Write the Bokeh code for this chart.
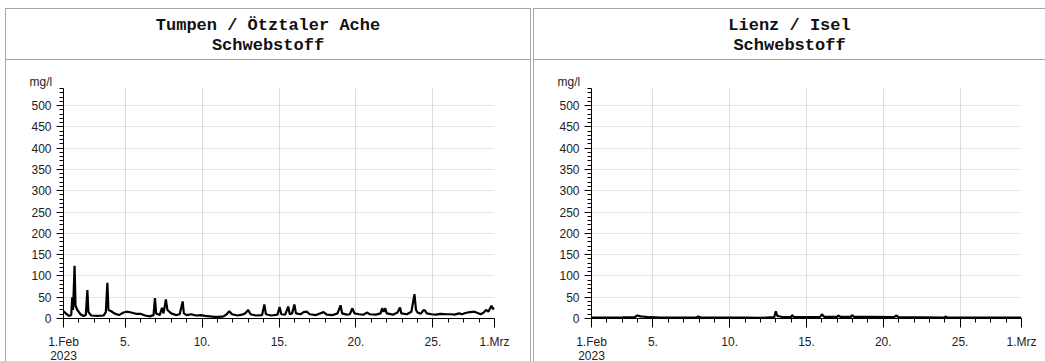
from bokeh.plotting import figure
from bokeh.models import Div, FixedTicker, Title, Range1d, ColumnDataSource
from bokeh.layouts import column, row
from bokeh.embed import file_html
from bokeh.resources import INLINE

# ---- data (days since 1 Feb 2023, mg/l) ----
tumpen_day = [0.0, 0.15, 0.35, 0.5, 0.57, 0.62, 0.72, 0.78, 0.9, 1.1, 1.3, 1.45, 1.55, 1.62, 1.8,
              2.2, 2.6, 2.75, 2.85, 2.92, 3.1, 3.3, 3.6, 3.9, 4.1, 4.4, 4.7, 5.0, 5.3, 5.6, 5.85,
              5.94, 6.02, 6.25, 6.4, 6.5, 6.65, 6.75, 7.0, 7.3, 7.55, 7.74, 7.82, 8.0, 8.3, 8.6,
              8.9, 9.2, 9.5, 9.8, 10.1, 10.4, 10.6, 10.77, 10.95, 11.3, 11.6, 11.8, 12.0, 12.15,
              12.5, 12.9, 13.05, 13.15, 13.5, 13.9, 14.04, 14.15, 14.4, 14.6, 14.7, 14.85, 15.0,
              15.1, 15.4, 15.6, 15.8, 16.0, 16.4, 16.9, 17.1, 17.5, 17.8, 18.0, 18.1, 18.4, 18.6,
              18.77, 18.9, 19.2, 19.5, 19.7, 19.9, 20.3, 20.6, 20.7, 20.8, 20.9, 21.0, 21.4, 21.7,
              21.86, 21.95, 22.3, 22.6, 22.8, 22.9, 23.0, 23.2, 23.4, 23.5, 23.6, 23.9, 24.2, 24.5,
              24.9, 25.2, 25.4, 25.7, 25.9, 26.1, 26.4, 26.7, 26.9, 27.1, 27.3, 27.45, 27.6, 27.8,
              27.9, 28.0]
tumpen_val = [17, 12, 6, 8, 50, 20, 124, 30, 20, 10, 6, 8, 67, 15, 7,
              6, 7, 15, 84, 20, 17, 12, 8, 14, 16, 14, 11, 11, 7, 5, 8,
              48, 12, 8, 25, 12, 45, 20, 12, 8, 10, 40, 12, 8, 10, 7,
              8, 6, 5, 4, 4, 5, 10, 17, 10, 7, 9, 12, 20, 10,
              7, 8, 33, 10, 7, 9, 27, 10, 9, 28, 10, 12, 33,
              12, 10, 15, 16, 10, 8, 15, 9, 8, 12, 31, 12, 9, 10,
              24, 12, 10, 9, 14, 10, 9, 12, 24, 16, 24, 12, 9, 14,
              26, 12, 10, 16, 57, 20, 14, 11, 20, 18, 12, 10, 9, 11,
              10, 10, 9, 12, 10, 13, 15, 16, 13, 10, 14, 20, 16, 30,
              22, 25]

lienz_day = [0, 1, 2, 2.8, 2.98, 3.2, 3.8, 4.5, 6.8, 6.96, 7.1, 10, 11.0, 11.9, 12.0, 12.1,
             12.5, 13.0, 13.05, 13.2, 14.9, 15.0, 15.15, 16.0, 16.06, 16.2, 16.9, 16.95, 17.1,
             18, 19.7, 19.84, 20.0, 23.0, 23.04, 23.2, 28]
lienz_val = [2, 2, 2.5, 3, 7, 5, 3, 2, 2, 5, 2, 2, 1.5, 3, 17, 6,
             3, 3, 8, 3, 4, 10, 4, 4, 7, 4, 4, 8, 4,
             4, 3, 7, 3, 2, 5, 2, 2]

x_ticks = [0, 4, 9, 14, 19, 24, 28]
x_tick_labels = ["1.Feb\n2023", "5.", "10.", "15.", "20.", "25.", "1.Mrz"]
y_ticks = list(range(0, 501, 50))
titles = ["Tumpen / Ötztaler Ache", "Lienz / Isel"]
subtitle = "Schwebstoff"
unit = "mg/l"

BORDER = "1px solid #a8a8a8"


def make_panel(title, days, vals, width, left_pad, right_border=True):
    div_styles = {
        "font-family": "'Liberation Mono', 'Courier New', monospace",
        "font-weight": "bold",
        "font-size": "17px",
        "line-height": "20px",
        "text-align": "center",
        "color": "#111",
        "border-top": BORDER,
        "border-left": BORDER,
        "border-bottom": BORDER,
        "box-sizing": "border-box",
        "padding-top": "7px",
    }
    fig_styles = {"border-left": BORDER, "box-sizing": "content-box"}
    inner_w = width - 1
    if right_border:
        div_styles["border-right"] = BORDER
        fig_styles["border-right"] = BORDER
        inner_w -= 1
    div = Div(text=f"{title}<br>{subtitle}", width=width, height=52,
              styles=div_styles, margin=0)

    p = figure(width=inner_w, height=306, output_backend="svg", toolbar_location=None,
               x_range=Range1d(0, 28), y_range=Range1d(0, 540),
               min_border_left=left_pad, min_border_right=inner_w - left_pad - 429,
               min_border_top=28, min_border_bottom=48, styles=fig_styles, margin=0)
    p.outline_line_color = None
    p.background_fill_color = "white"
    p.border_fill_color = "white"

    src = ColumnDataSource(dict(x=days, y=vals))
    p.line("x", "y", source=src, line_color="black", line_width=2.2)

    xa = p.xaxis[0]
    xa.ticker = FixedTicker(ticks=x_ticks, minor_ticks=list(range(0, 29)))
    xa.major_label_overrides = {t: l for t, l in zip(x_ticks, x_tick_labels)}
    xa.major_tick_out = 9
    xa.major_tick_in = 0
    xa.minor_tick_out = 4
    xa.minor_tick_in = 0
    xa.major_label_standoff = 7
    xa.major_label_text_line_height = 1.0
    xa.major_label_text_font = "Liberation Sans"
    xa.major_label_text_font_size = "12px"
    xa.major_label_text_color = "#222"
    xa.axis_line_color = "black"
    xa.major_tick_line_color = "black"
    xa.minor_tick_line_color = "black"

    ya = p.yaxis[0]
    ya.ticker = FixedTicker(ticks=y_ticks, minor_ticks=list(range(0, 541, 10)))
    ya.major_tick_out = 7
    ya.major_tick_in = 0
    ya.minor_tick_out = 4
    ya.minor_tick_in = 0
    ya.major_label_standoff = 5
    ya.major_label_text_font = "Liberation Sans"
    ya.major_label_text_font_size = "12px"
    ya.major_label_text_color = "#222"
    ya.axis_line_color = "black"
    ya.major_tick_line_color = "black"
    ya.minor_tick_line_color = "black"

    p.xgrid.grid_line_color = "#dddddd"
    p.ygrid.grid_line_color = "#cccccc"
    p.ygrid.grid_line_dash = "1 1"

    p.add_layout(Title(text=unit, align="left", offset=-34, standoff=0,
                       text_font="Liberation Sans", text_font_size="12px",
                       text_font_style="normal", text_color="#222"), "above")
    return column(div, p, spacing=0, margin=0)


left = make_panel(titles[0], tumpen_day, tumpen_val, 526, 57, True)
right = make_panel(titles[1], lienz_day, lienz_val, 512, 57, False)
layout = row(left, right, spacing=2, margin=(8, 0, 0, 5), height=353,
             styles={"overflow": "hidden"})

open("out.html", "w").write(file_html(layout, INLINE))
